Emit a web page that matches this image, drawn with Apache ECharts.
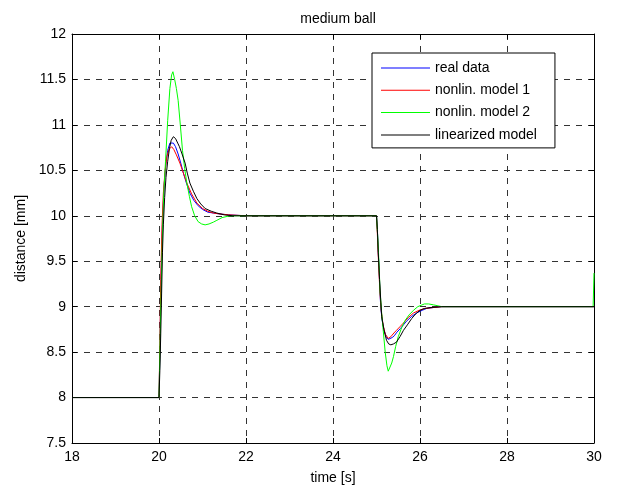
<!DOCTYPE html>
<html>
<head>
<meta charset="utf-8">
<script src="https://cdn.jsdelivr.net/npm/echarts@6/dist/echarts.min.js"></script>
<style>
  html, body { margin: 0; padding: 0; background: #fff; }
  #chart { width: 620px; height: 491px; }
</style>
</head>
<body>
<div id="chart"></div>
<script>
// Ball levitation step responses: measured position vs. three models
const xTicks = [18, 20, 22, 24, 26, 28, 30];
const yTicks = [7.5, 8, 8.5, 9, 9.5, 10, 10.5, 11, 11.5, 12];
const seriesNames = ['real data', 'nonlin. model 1', 'nonlin. model 2', 'linearized model'];

// [time s, distance mm]
const realData = [
  [18, 8.0], [19, 8.0], [20.0, 8.0], [20.02, 8.5], [20.04, 9.1], [20.06, 9.6], [20.09, 10.05],
  [20.12, 10.35], [20.16, 10.58], [20.2, 10.72], [20.25, 10.8], [20.29, 10.82], [20.33, 10.8],
  [20.38, 10.76], [20.44, 10.68], [20.5, 10.58], [20.56, 10.47], [20.63, 10.36], [20.71, 10.25],
  [20.8, 10.17], [20.9, 10.11], [21.0, 10.07], [21.12, 10.04], [21.25, 10.03], [21.4, 10.02],
  [21.6, 10.01], [22, 10.0], [25.0, 10.0], [25.02, 9.85], [25.04, 9.6], [25.06, 9.4],
  [25.08, 9.15], [25.1, 8.98], [25.13, 8.85], [25.17, 8.75], [25.22, 8.67], [25.27, 8.64],
  [25.31, 8.63], [25.36, 8.66], [25.41, 8.68], [25.47, 8.72], [25.55, 8.76], [25.62, 8.8],
  [25.69, 8.84], [25.8, 8.89], [25.92, 8.93], [26.05, 8.96], [26.15, 8.98], [26.3, 8.99],
  [26.5, 9.0], [30, 9.0]
];

const nonlinModel1 = [
  [18, 8.0], [20.0, 8.0], [20.02, 8.6], [20.04, 9.3], [20.07, 9.9], [20.1, 10.25], [20.14, 10.5],
  [20.18, 10.65], [20.23, 10.73], [20.29, 10.76], [20.34, 10.73], [20.4, 10.67], [20.48, 10.58],
  [20.56, 10.47], [20.64, 10.36], [20.75, 10.24], [20.87, 10.14], [21.0, 10.08], [21.12, 10.05],
  [21.25, 10.03], [21.4, 10.02], [21.6, 10.01], [22, 10.0], [25.0, 10.0], [25.02, 9.8],
  [25.05, 9.45], [25.08, 9.15], [25.11, 8.95], [25.15, 8.8], [25.2, 8.7], [25.27, 8.65],
  [25.33, 8.67], [25.4, 8.71], [25.46, 8.74], [25.54, 8.78], [25.62, 8.82], [25.73, 8.88],
  [25.85, 8.93], [25.98, 8.96], [26.11, 8.98], [26.3, 8.99], [26.5, 9.0], [30, 9.0]
];

const nonlinModel2 = [
  [18, 8.0], [20.0, 8.0], [20.02, 8.5], [20.05, 9.2], [20.08, 9.8], [20.11, 10.25], [20.15, 10.6],
  [20.2, 11.05], [20.25, 11.4], [20.29, 11.55], [20.32, 11.585], [20.36, 11.5], [20.4, 11.4],
  [20.44, 11.27], [20.49, 11.0], [20.54, 10.72], [20.59, 10.52], [20.64, 10.36], [20.7, 10.21],
  [20.75, 10.1], [20.82, 10.0], [20.9, 9.935], [20.98, 9.91], [21.06, 9.9], [21.15, 9.91],
  [21.25, 9.93], [21.33, 9.95], [21.45, 9.98], [21.63, 10.0], [22, 10.0], [25.0, 10.0],
  [25.03, 9.75], [25.06, 9.45], [25.08, 9.18], [25.12, 8.92], [25.16, 8.71], [25.2, 8.5],
  [25.24, 8.35], [25.27, 8.29], [25.3, 8.3], [25.35, 8.38], [25.39, 8.45], [25.44, 8.56],
  [25.5, 8.67], [25.58, 8.77], [25.66, 8.85], [25.75, 8.91], [25.85, 8.96], [25.95, 9.0],
  [26.1, 9.03], [26.2, 9.03], [26.31, 9.02], [26.5, 9.0], [29.98, 9.0], [30, 9.37]
];

const linearizedModel = [
  [18, 8.0], [20.0, 8.0], [20.02, 8.3], [20.04, 8.7], [20.06, 9.15], [20.08, 9.6], [20.1, 9.9],
  [20.13, 10.2], [20.16, 10.42], [20.2, 10.6], [20.24, 10.74], [20.28, 10.83], [20.33, 10.87],
  [20.38, 10.85], [20.43, 10.8], [20.47, 10.76], [20.53, 10.68], [20.6, 10.58], [20.65, 10.47],
  [20.71, 10.36], [20.79, 10.27], [20.87, 10.19], [20.96, 10.13], [21.06, 10.08], [21.2, 10.05],
  [21.33, 10.03], [21.5, 10.01], [21.7, 10.0], [25.0, 10.0], [25.02, 9.85], [25.04, 9.6],
  [25.07, 9.3], [25.1, 9.05], [25.12, 8.89], [25.17, 8.75], [25.23, 8.63], [25.28, 8.59],
  [25.33, 8.58], [25.39, 8.59], [25.46, 8.61], [25.54, 8.67], [25.62, 8.74], [25.71, 8.8],
  [25.81, 8.87], [25.9, 8.92], [26.0, 8.96], [26.1, 8.98], [26.23, 8.99], [26.5, 9.0], [30, 9.0]
];

const lineColors = ['#0000ff', '#ff0000', '#00ff00', '#000000'];
const allData = [realData, nonlinModel1, nonlinModel2, linearizedModel];

const FONT = '"Liberation Sans", Arial, Helvetica, sans-serif';
// Thin horizontal stroke inside a 49x14 box, used as the legend key
const LEGEND_KEY = 'path://M0,0 M49,14 M0,6.5 L49,6.5 L49,7.5 L0,7.5 Z';

const chart = echarts.init(document.getElementById('chart'), null, { renderer: 'canvas' });

const tickStyle = { show: true, inside: true, length: 5, lineStyle: { color: '#000', width: 1 } };
const gridDash = { show: true, lineStyle: { color: '#333', width: 1, type: [6, 6] } };

chart.setOption({
  animation: false,
  backgroundColor: '#fff',
  title: {
    text: 'medium ball',
    left: 333,
    top: 7,
    textAlign: 'center',
    textStyle: { fontFamily: FONT, fontSize: 14, fontWeight: 'normal', color: '#000' }
  },
  legend: {
    orient: 'vertical',
    left: 372,
    top: 53,
    padding: [8, 18, 6, 9],
    itemWidth: 49,
    itemHeight: 14,
    itemGap: 8.3,
    backgroundColor: '#fff',
    borderColor: '#000',
    borderWidth: 1,
    borderRadius: 0,
    textStyle: { fontFamily: FONT, fontSize: 14, color: '#000' },
    data: seriesNames.map((n, i) => ({
      name: n,
      icon: LEGEND_KEY,
      itemStyle: { color: lineColors[i], borderWidth: 0 }
    }))
  },
  grid: { left: 72, right: 26, top: 34, bottom: 48, containLabel: false },
  xAxis: [
    {
      type: 'value', min: xTicks[0], max: xTicks[xTicks.length - 1], interval: 2,
      name: 'time [s]', nameLocation: 'middle', nameGap: 28,
      nameTextStyle: { fontFamily: FONT, fontSize: 14, color: '#000' },
      axisLine: { show: true, onZero: false, lineStyle: { color: '#000', width: 1 } },
      axisTick: tickStyle,
      axisLabel: { fontFamily: FONT, fontSize: 14, color: '#000', margin: 7 },
      splitLine: gridDash
    },
    {
      type: 'value', position: 'top', min: xTicks[0], max: xTicks[xTicks.length - 1], interval: 2,
      axisLine: { show: true, onZero: false, lineStyle: { color: '#000', width: 1 } },
      axisTick: tickStyle,
      axisLabel: { show: false },
      splitLine: { show: false }
    }
  ],
  yAxis: [
    {
      type: 'value', min: yTicks[0], max: yTicks[yTicks.length - 1], interval: 0.5,
      name: 'distance [mm]', nameLocation: 'middle', nameGap: 44, nameRotate: 90,
      nameTextStyle: { fontFamily: FONT, fontSize: 14, color: '#000' },
      axisLine: { show: true, onZero: false, lineStyle: { color: '#000', width: 1 } },
      axisTick: tickStyle,
      axisLabel: { fontFamily: FONT, fontSize: 14, color: '#000', margin: 6 },
      splitLine: gridDash
    },
    {
      type: 'value', position: 'right', min: yTicks[0], max: yTicks[yTicks.length - 1], interval: 0.5,
      axisLine: { show: true, onZero: false, lineStyle: { color: '#000', width: 1 } },
      axisTick: tickStyle,
      axisLabel: { show: false },
      splitLine: { show: false }
    }
  ],
  series: allData.map((d, i) => ({
    name: seriesNames[i],
    type: 'line',
    xAxisIndex: 0,
    yAxisIndex: 0,
    data: d,
    symbol: 'none',
    showSymbol: false,
    smooth: false,
    z: 2 + i,
    lineStyle: { color: lineColors[i], width: 1 },
    itemStyle: { color: lineColors[i] },
    emphasis: { disabled: true }
  }))
});
</script>
</body>
</html>
